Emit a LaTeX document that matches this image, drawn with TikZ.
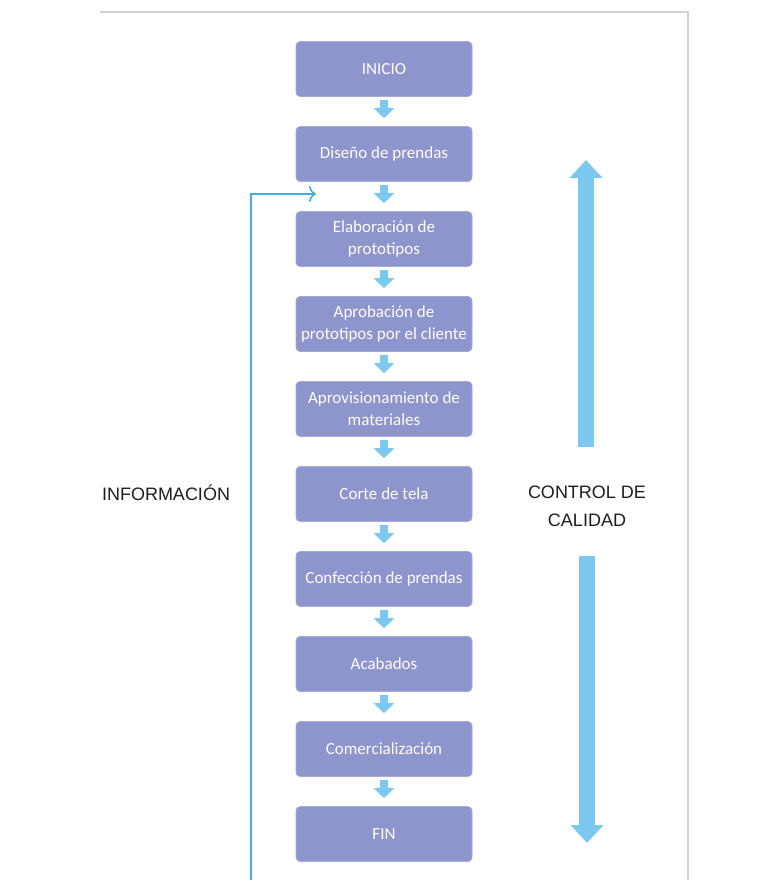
\documentclass[tikz,border=0pt]{standalone}
\usepackage{fontspec}
\setmainfont{Carlito}
\newfontfamily\labelfont{Liberation Sans}
\usetikzlibrary{arrows.meta,calc}
\definecolor{boxfill}{RGB}{142,148,204}
\definecolor{arrowblue}{RGB}{125,200,240}
\definecolor{lineblue}{RGB}{70,170,225}
\definecolor{panelgray}{RGB}{210,210,210}
\definecolor{labeltext}{RGB}{30,30,30}
\begin{document}
\begin{tikzpicture}[x=1pt,y=-1pt,
  stepbox/.style={draw=boxfill!80!white, line width=0.6pt, fill=boxfill, rounded corners=4pt,
    minimum width=176pt, minimum height=55pt, align=center, text=white,
    font=\fontsize{17}{22}\selectfont, inner sep=2pt},
  smallarrow/.style={draw=arrowblue, line width=8pt, shorten <=3pt, shorten >=8pt,
    -{Triangle[length=10pt,width=20pt]}},
  bigarrow/.style={draw=arrowblue, line width=16pt,
    -{Triangle[length=18pt,width=32pt]}},
  sidelabel/.style={font=\labelfont\fontsize{18}{28}\selectfont, text=labeltext, align=center},
  infoline/.style={draw=lineblue, line width=1.5pt, -{To[length=7pt,width=16pt]}}
]
\useasboundingbox (0,0) rectangle (764,880);
\fill[white] (0,0) rectangle (764,880);
% panel edges
\draw[panelgray, line width=1.2pt] (100,12) -- (688,12) -- (688,880);

\node[stepbox] (inicio) at (384,69) {INICIO};
\node[stepbox] (diseno) at (384,154) {Diseño de prendas};
\node[stepbox] (elab) at (384,239) {Elaboración de\\prototipos};
\node[stepbox] (aprob) at (384,324) {Aprobación de\\prototipos por el cliente};
\node[stepbox] (aprov) at (384,409) {Aprovisionamiento de\\materiales};
\node[stepbox] (corte) at (384,494) {Corte de tela};
\node[stepbox] (confec) at (384,579) {Confección de prendas};
\node[stepbox] (acab) at (384,664) {Acabados};
\node[stepbox] (comer) at (384,749) {Comercialización};
\node[stepbox] (fin) at (384,834) {FIN};

\foreach \a/\b in {inicio/diseno, diseno/elab, elab/aprob, aprob/aprov, aprov/corte,
  corte/confec, confec/acab, acab/comer, comer/fin}
  \draw[smallarrow] (\a.south) -- (\b.north);

\node[sidelabel] (info) at (166,493) {INFORMACIÓN};
\node[sidelabel] (control) at (587,506) {CONTROL DE\\CALIDAD};

\coordinate (upbot) at (586,447);
\coordinate (uptop) at (586,160);
\coordinate (downtop) at (587,556);
\coordinate (downbot) at (587,843);
\draw[bigarrow] (upbot) -- (uptop);
\draw[bigarrow] (downtop) -- (downbot);

\coordinate (infbot) at (251,881);
\coordinate (infend) at (316,194);
\draw[infoline] (infbot) |- (infend);
\end{tikzpicture}
\end{document}
